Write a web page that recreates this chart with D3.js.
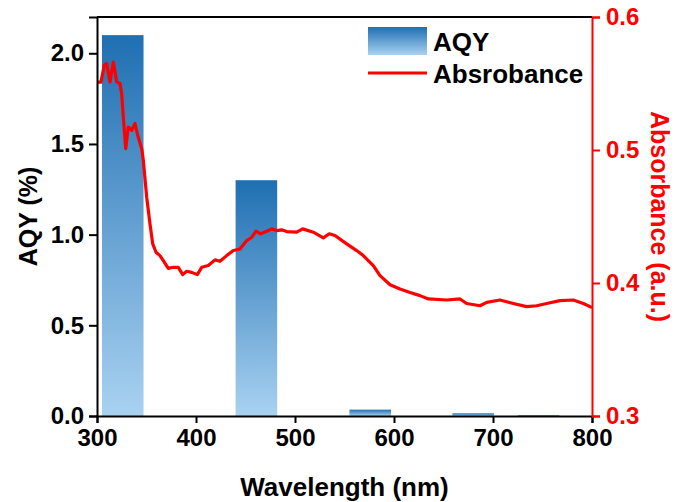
<!DOCTYPE html>
<html>
<head>
<meta charset="utf-8">
<script src="https://cdn.jsdelivr.net/npm/d3@7"></script>
<style>
  body { margin: 0; background: #fff; }
  text { font-family: "Liberation Sans", Arial, sans-serif; font-weight: bold; }
</style>
</head>
<body>
<div id="chart"></div>
<script>
// AQY bars (centre wavelength in nm, value in %)
var barWavelengths = [326, 461, 576, 680, 746];
var aqyValues = [2.1, 1.3, 0.035, 0.015, 0.005];

// absorbance spectrum
var specWavelengths = [301, 304, 307.4, 309.8, 313.1, 316.5, 319.9, 323.2, 324.9, 326.6, 329, 331.6, 335.1, 338.4, 341.1, 345.2, 346.8, 350.2, 353.5, 356.3, 359.6, 363.6, 367, 372, 377.1, 382.1, 386.6, 390.6, 395.7, 401.3, 405.8, 412.4, 419.2, 424.2, 431, 437.7, 444.4, 451.2, 456.3, 460.6, 465.4, 471.4, 476.5, 481.5, 486.6, 491.6, 501.7, 507.8, 518.5, 528.6, 534.6, 540.4, 552.2, 562.3, 569, 579.1, 585.9, 596, 606.1, 616.2, 626.3, 634.7, 653.2, 666.7, 673.4, 686.9, 693.6, 707.1, 720.5, 734, 744.1, 754.2, 767.7, 781.1, 791.2, 798, 800];
var absorbance = [0.551, 0.551, 0.5638, 0.5651, 0.5512, 0.5661, 0.5512, 0.55, 0.5425, 0.5248, 0.501, 0.5173, 0.5148, 0.5199, 0.5111, 0.501, 0.4922, 0.4645, 0.4445, 0.4294, 0.4231, 0.4206, 0.4168, 0.411, 0.4118, 0.4118, 0.4063, 0.4088, 0.408, 0.4063, 0.4118, 0.4131, 0.4174, 0.4163, 0.4206, 0.4244, 0.4256, 0.4319, 0.4344, 0.4389, 0.437, 0.4389, 0.4407, 0.4394, 0.44, 0.4387, 0.4382, 0.4407, 0.4382, 0.4339, 0.437, 0.4357, 0.4294, 0.4244, 0.4206, 0.4131, 0.4055, 0.3987, 0.3955, 0.3929, 0.3905, 0.388, 0.3872, 0.388, 0.3846, 0.3829, 0.3854, 0.3872, 0.3846, 0.3822, 0.3829, 0.3846, 0.3867, 0.3872, 0.3846, 0.3822, 0.3815];

var xTicks = [300, 400, 500, 600, 700, 800];
var leftTicks = [0.0, 0.5, 1.0, 1.5, 2.0];
var rightTicks = [0.3, 0.4, 0.5, 0.6];

var margin = {top: 17, right: 86, bottom: 86, left: 97},
    width = 678 - margin.left - margin.right,
    height = 502 - margin.top - margin.bottom;

var svg = d3.select("#chart")
  .append("svg")
    .attr("width", 678)
    .attr("height", 502);

// gradient for the bars
var defs = svg.append("defs");
var grad = defs.append("linearGradient")
    .attr("id", "barGrad")
    .attr("x1", 0).attr("y1", 0).attr("x2", 0).attr("y2", 1);
grad.append("stop").attr("offset", "0%").attr("stop-color", "#1f6fb2");
grad.append("stop").attr("offset", "100%").attr("stop-color", "#a9d2f1");

var g = svg.append("g")
    .attr("transform", "translate(" + margin.left + "," + margin.top + ")");

var x = d3.scaleLinear().domain([300, 800]).range([0, width]);
var yL = d3.scaleLinear().domain([0, 2.2]).range([height, 0]);
var yR = d3.scaleLinear().domain([0.3, 0.6]).range([height, 0]);

var barW = x(342) - x(300);

// bars
g.selectAll("rect.bar")
  .data(aqyValues)
  .enter()
  .append("rect")
    .attr("class", "bar")
    .attr("x", function(d, i) { return x(barWavelengths[i]) - barW / 2; })
    .attr("y", function(d) { return yL(d); })
    .attr("width", barW)
    .attr("height", function(d) { return height - yL(d); })
    .attr("fill", "url(#barGrad)");

// absorbance line
var line = d3.line()
  .x(function(d, i) { return x(specWavelengths[i]); })
  .y(function(d) { return yR(d); });

g.append("path")
  .datum(absorbance)
  .attr("d", line)
  .attr("fill", "none")
  .attr("stroke", "#ff0000")
  .attr("stroke-width", 3.2)
  .attr("stroke-linejoin", "round");

// axes
var xAxis = g.append("g")
  .attr("transform", "translate(0," + height + ")")
  .call(d3.axisBottom(x).tickValues(xTicks).tickSize(7).tickPadding(5));

var leftAxis = g.append("g")
  .call(d3.axisLeft(yL).tickValues(leftTicks).tickFormat(d3.format(".1f")).tickSize(8).tickPadding(5));

var rightAxis = g.append("g")
  .attr("transform", "translate(" + width + ",0)")
  .call(d3.axisRight(yR).tickValues(rightTicks).tickFormat(d3.format(".1f")).tickSize(8).tickPadding(6));

[xAxis, leftAxis].forEach(function(a) {
  a.select(".domain").attr("stroke", "#000").attr("stroke-width", 2);
  a.selectAll(".tick line").attr("stroke", "#000").attr("stroke-width", 2);
  a.selectAll(".tick text").attr("fill", "#000").style("font-size", "24px");
});
rightAxis.select(".domain").attr("stroke", "#ff0000").attr("stroke-width", 2);
rightAxis.selectAll(".tick line").attr("stroke", "#ff0000").attr("stroke-width", 2);
rightAxis.selectAll(".tick text").attr("fill", "#ff0000").style("font-size", "24px");
xAxis.selectAll(".tick text").attr("dy", "0.75em");

// top border
g.append("line")
  .attr("x1", 0).attr("x2", width)
  .attr("y1", 0).attr("y2", 0)
  .attr("stroke", "#000").attr("stroke-width", 2);

// axis titles
svg.append("text")
  .attr("x", margin.left + width / 2)
  .attr("y", 496)
  .attr("text-anchor", "middle")
  .style("font-size", "26px")
  .text("Wavelength (nm)");

svg.append("text")
  .attr("transform", "translate(37," + (margin.top + height / 2) + ")rotate(-90)")
  .attr("text-anchor", "middle")
  .style("font-size", "25px")
  .text("AQY (%)");

svg.append("text")
  .attr("transform", "translate(651," + (margin.top + height / 2) + ")rotate(90)")
  .attr("text-anchor", "middle")
  .attr("fill", "#ff0000")
  .style("font-size", "25px")
  .text("Absorbance (a.u.)");

// legend
var legend = svg.append("g").attr("transform", "translate(368,27)");
legend.append("rect")
  .attr("x", 0).attr("y", 0)
  .attr("width", 59).attr("height", 28)
  .attr("fill", "url(#barGrad)");
legend.append("text")
  .attr("x", 65).attr("y", 24)
  .style("font-size", "26px")
  .text("AQY");
legend.append("line")
  .attr("x1", 0).attr("x2", 59)
  .attr("y1", 46).attr("y2", 46)
  .attr("stroke", "#ff0000").attr("stroke-width", 3);
legend.append("text")
  .attr("x", 65).attr("y", 56)
  .style("font-size", "26px")
  .text("Absrobance");
</script>
</body>
</html>
